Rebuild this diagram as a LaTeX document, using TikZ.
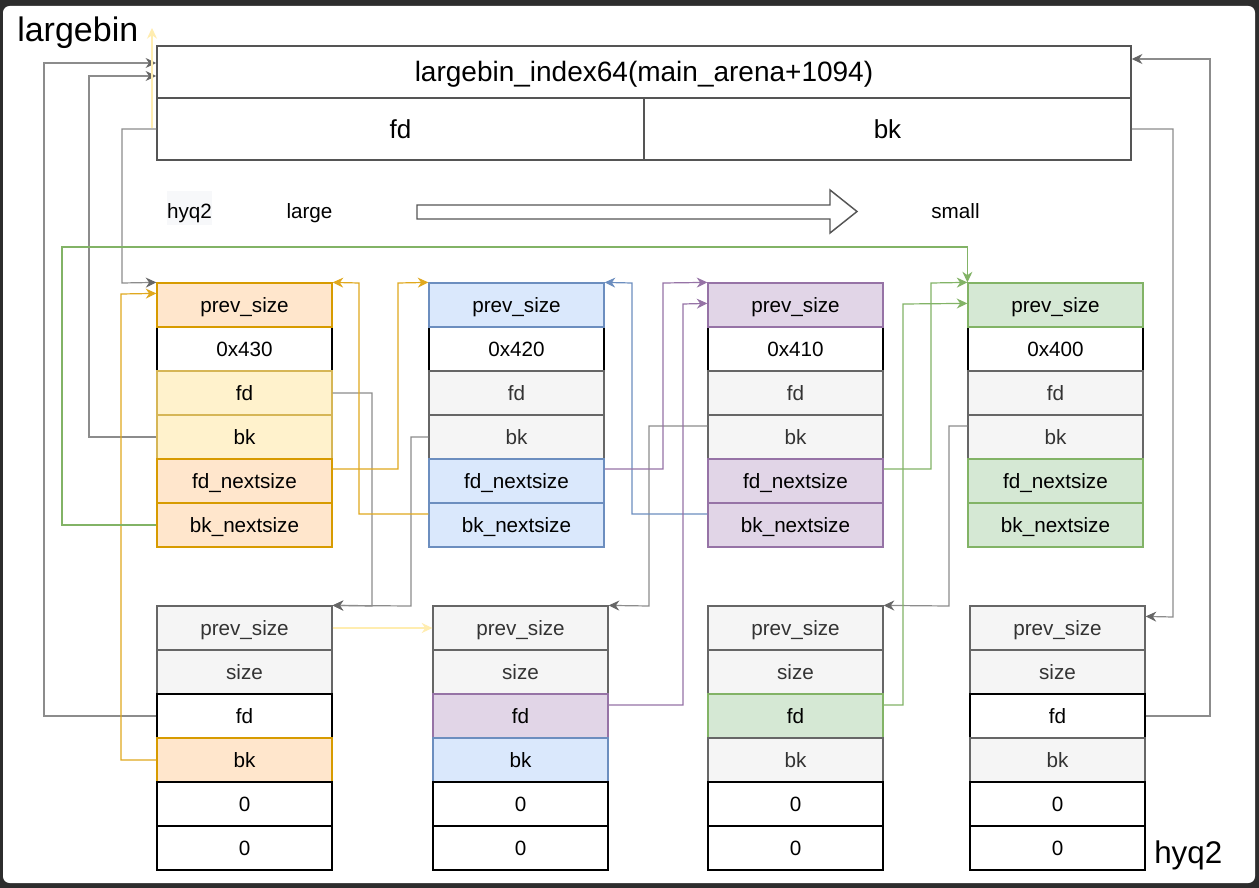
\documentclass[tikz,border=0pt]{standalone}
\usepackage{fontspec}
\setmainfont{Liberation Sans}
\usetikzlibrary{arrows.meta}
\definecolor{orgF}{HTML}{FFE6CC}\definecolor{orgD}{HTML}{D79B00}
\definecolor{orgL}{HTML}{E0A81E}
\definecolor{yelF}{HTML}{FFF2CC}\definecolor{yelD}{HTML}{D6B656}
\definecolor{bluF}{HTML}{DAE8FC}\definecolor{bluD}{HTML}{6C8EBF}
\definecolor{purF}{HTML}{E1D5E7}\definecolor{purD}{HTML}{9673A6}
\definecolor{grnF}{HTML}{D5E8D4}\definecolor{grnD}{HTML}{82B366}
\definecolor{gryF}{HTML}{F5F5F5}\definecolor{gryD}{HTML}{666666}\definecolor{gryT}{HTML}{333333}
\definecolor{edgeG}{HTML}{8C8C8C}\definecolor{tipG}{HTML}{666666}
\definecolor{faintY}{HTML}{FFEDB0}
\definecolor{darkbg}{HTML}{2D2D2D}
\definecolor{hyqbg}{HTML}{F7F8FA}
\definecolor{ttlD}{HTML}{555555}
\newcommand\mkcell[5]{\node[#4] (#1) at (#2,#3) {#5};}
\begin{document}
\begin{tikzpicture}[x=0.75pt,y=-0.75pt,
  cell/.style={draw, line width=0.9pt, minimum width=131.25pt, minimum height=33pt, inner sep=0pt,
    font=\fontsize{15.5}{18}\selectfont, text height=12pt, text depth=1.5pt},
  org/.style={cell, fill=orgF, draw=orgD},
  yel/.style={cell, fill=yelF, draw=yelD},
  blu/.style={cell, fill=bluF, draw=bluD},
  pur/.style={cell, fill=purF, draw=purD},
  grn/.style={cell, fill=grnF, draw=grnD},
  gry/.style={cell, fill=gryF, draw=gryD, text=gryT},
  wht/.style={cell, fill=white, draw=black},
  tip/.style={-{Stealth[length=8pt,width=7.5pt,inset=2.6pt,color=#1]}},
  gline/.style={draw=edgeG, line width=0.9pt, tip=tipG},
  oline/.style={draw=orgL, line width=0.9pt, tip=orgL},
  bline/.style={draw=bluD, line width=0.9pt, tip=bluD},
  pline/.style={draw=purD, line width=0.9pt, tip=purD},
  nline/.style={draw=grnD, line width=0.9pt, tip=grnD},
  yline/.style={draw=faintY, line width=0.9pt, tip=faintY},
  lbl/.style={font=\fontsize{15.5}{18}\selectfont, inner sep=0pt, anchor=base}
]
\useasboundingbox (0,0) rectangle (1259,888);
\fill[darkbg] (0,0) rectangle (1259,888);
\fill[white, rounded corners=5] (3,6) rectangle (1255,883);

% title box
\node[draw=ttlD, line width=1.1pt, fill=white, minimum width=730.5pt, minimum height=39pt, inner sep=0pt,
  font=\fontsize{21}{25}\selectfont, text height=16pt, text depth=1.4pt] (ttl) at (644,72) {largebin\_index64(main\_arena+1094)};
\node[draw=ttlD, line width=1.1pt, fill=white, minimum width=365.25pt, minimum height=46.5pt, inner sep=0pt,
  font=\fontsize{19.5}{23}\selectfont, text height=15pt, text depth=1.2pt] (tfd) at (400.5,129) {fd};
\node[draw=ttlD, line width=1.1pt, fill=white, minimum width=365.25pt, minimum height=46.5pt, inner sep=0pt,
  font=\fontsize{19.5}{23}\selectfont, text height=15pt, text depth=1.2pt] (tbk) at (887.5,129) {bk};

% labels
\node[anchor=base west, inner sep=0pt, font=\fontsize{25.5}{30}\selectfont] (lbin) at (17,42) {largebin};
\node[anchor=base west, inner sep=0pt, font=\fontsize{23.5}{28}\selectfont] (hyqb) at (1154,863) {hyq2};
\fill[hyqbg] (167,191) rectangle (212,225);
\node[lbl] (hyqa) at (189.5,218) {hyq2};
\node[lbl] (lrg) at (309.5,218) {large};
\node[lbl] (sml) at (955.5,218) {small};

% block arrow
\draw[draw=ttlD, line width=1.1pt, fill=white, line join=miter]
  (417,205) -- (830,205) -- (830,190) -- (857,211.5) -- (830,233) -- (830,219) -- (417,219) -- cycle;

% top chunk 1
\mkcell{t1r2}{244.5}{349}{wht}{0x430}
\mkcell{t1r1}{244.5}{305}{org}{prev\_size}
\mkcell{t1r3}{244.5}{393}{yel}{fd}
\mkcell{t1r4}{244.5}{437}{yel}{bk}
\mkcell{t1r5}{244.5}{481}{org}{fd\_nextsize}
\mkcell{t1r6}{244.5}{525}{org}{bk\_nextsize}
% top chunk 2
\mkcell{t2r2}{516.5}{349}{wht}{0x420}
\mkcell{t2r1}{516.5}{305}{blu}{prev\_size}
\mkcell{t2r3}{516.5}{393}{gry}{fd}
\mkcell{t2r4}{516.5}{437}{gry}{bk}
\mkcell{t2r5}{516.5}{481}{blu}{fd\_nextsize}
\mkcell{t2r6}{516.5}{525}{blu}{bk\_nextsize}
% top chunk 3
\mkcell{t3r2}{795.5}{349}{wht}{0x410}
\mkcell{t3r1}{795.5}{305}{pur}{prev\_size}
\mkcell{t3r3}{795.5}{393}{gry}{fd}
\mkcell{t3r4}{795.5}{437}{gry}{bk}
\mkcell{t3r5}{795.5}{481}{pur}{fd\_nextsize}
\mkcell{t3r6}{795.5}{525}{pur}{bk\_nextsize}
% top chunk 4
\mkcell{t4r2}{1055.5}{349}{wht}{0x400}
\mkcell{t4r1}{1055.5}{305}{grn}{prev\_size}
\mkcell{t4r3}{1055.5}{393}{gry}{fd}
\mkcell{t4r4}{1055.5}{437}{gry}{bk}
\mkcell{t4r5}{1055.5}{481}{grn}{fd\_nextsize}
\mkcell{t4r6}{1055.5}{525}{grn}{bk\_nextsize}

% bottom chunk 1
\mkcell{b1r1}{244.5}{628}{gry}{prev\_size}
\mkcell{b1r2}{244.5}{672}{gry}{size}
\mkcell{b1r3}{244.5}{716}{wht}{fd}
\mkcell{b1r4}{244.5}{760}{org}{bk}
\mkcell{b1r5}{244.5}{804}{wht}{0}
\mkcell{b1r6}{244.5}{848}{wht}{0}
% bottom chunk 2
\mkcell{b2r1}{520.5}{628}{gry}{prev\_size}
\mkcell{b2r2}{520.5}{672}{gry}{size}
\mkcell{b2r3}{520.5}{716}{pur}{fd}
\mkcell{b2r4}{520.5}{760}{blu}{bk}
\mkcell{b2r5}{520.5}{804}{wht}{0}
\mkcell{b2r6}{520.5}{848}{wht}{0}
% bottom chunk 3
\mkcell{b3r1}{795.5}{628}{gry}{prev\_size}
\mkcell{b3r2}{795.5}{672}{gry}{size}
\mkcell{b3r3}{795.5}{716}{grn}{fd}
\mkcell{b3r4}{795.5}{760}{gry}{bk}
\mkcell{b3r5}{795.5}{804}{wht}{0}
\mkcell{b3r6}{795.5}{848}{wht}{0}
% bottom chunk 4
\mkcell{b4r1}{1057.5}{628}{gry}{prev\_size}
\mkcell{b4r2}{1057.5}{672}{gry}{size}
\mkcell{b4r3}{1057.5}{716}{wht}{fd}
\mkcell{b4r4}{1057.5}{760}{gry}{bk}
\mkcell{b4r5}{1057.5}{804}{wht}{0}
\mkcell{b4r6}{1057.5}{848}{wht}{0}

% gray connectors
\draw[gline] (t1r4.west) -| (89,76) -- ([yshift=-3pt]ttl.west);
\draw[gline] (b1r3.west) -| (44,63) -- ([yshift=6.75pt]ttl.west);
\draw[gline] (tfd.west) -| (122,283) -- (t1r1.north west);
\draw[gline] (tbk.east) -| (1173,617) -- ([yshift=-8.25pt]b4r1.north east);
\draw[gline] (b4r3.east) -| (1210,59) -- ([yshift=9.75pt]ttl.east);
\draw[gline] (t1r3.east) -| (372,606) -- (b1r1.north east);
\draw[gline] (t2r4.west) -| (411,606) -- (b1r1.north east);
\draw[gline] ([yshift=8.25pt]t3r4.west) -| (649,606) -- (b2r1.north east);
\draw[gline] ([yshift=8.25pt]t4r4.west) -| (949,606) -- (b3r1.north east);

% orange connectors
\draw[oline] (b1r4.west) -| (121,294) -- ([yshift=-8.25pt]t1r1.north west);
\draw[oline] ([yshift=9pt]t1r5.east) -| (398,283) -- (t2r1.north west);
\draw[oline] ([yshift=8.25pt]t2r6.west) -| (359,283) -- (t1r1.north east);

% blue connector
\draw[bline] ([yshift=8.25pt]t3r6.west) -| (632,283) -- (t2r1.north east);

% purple connectors
\draw[pline] ([yshift=9pt]t2r5.east) -| (663,283) -- (t3r1.north west);
\draw[pline] ([yshift=8.25pt]b2r3.east) -| (683,304) -- ([yshift=-15.75pt]t3r1.north west);

% green connectors
\draw[nline] (t1r6.west) -| (62,247) -| (t4r1.north west);
\draw[nline] ([yshift=9pt]t3r5.east) -| (931,283) -- (t4r1.north west);
\draw[nline] ([yshift=8.25pt]b3r3.east) -| (903,304) -- ([yshift=-15.75pt]t4r1.north west);

% faint yellow connectors
\coordinate (ys) at (152,128);
\coordinate (ye) at (152,28);
\draw[yline] (ys) -- (ye);
\draw[yline] (b1r1.east) -- (b2r1.west);
\end{tikzpicture}
\end{document}
